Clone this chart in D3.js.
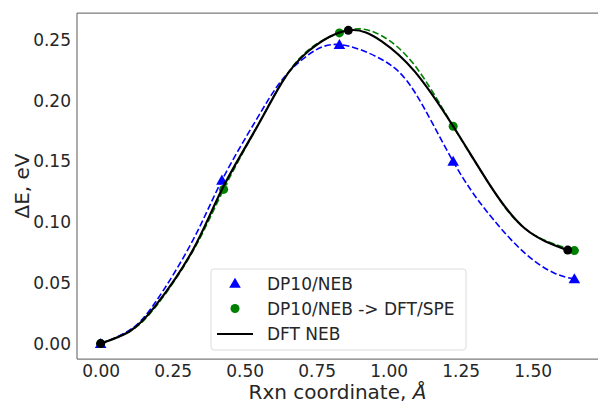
<!DOCTYPE html>
<html>
<head>
<meta charset="utf-8">
<script src="https://cdn.jsdelivr.net/npm/d3@7"></script>
<style>
  html, body { margin: 0; padding: 0; background: #fff; }
  svg { display: block; font-family: 'DejaVu Sans', sans-serif; }
</style>
</head>
<body>
<div id="chart"></div>
<script>
// NEB energy profiles: DP10 vs DFT single points vs DFT NEB

// image markers
const dpX = [0.0, 0.421, 0.829, 1.224, 1.645];
const dpE = [0.0, 0.1345, 0.2463, 0.150, 0.0533];
const speX = [0.0, 0.427, 0.829, 1.224, 1.645];
const speE = [0.0, 0.127, 0.2559, 0.179, 0.0766];
const dftX = [0.0, 0.860, 1.622];
const dftE = [0.0, 0.258, 0.077];

// fitted paths
const dpFitX = [0.0, 0.10, 0.19, 0.32, 0.421, 0.537, 0.629, 0.722, 0.829, 0.976, 1.091, 1.224, 1.345, 1.472, 1.576, 1.645];
const dpFitE = [0.0, 0.011, 0.034, 0.085, 0.1345, 0.183, 0.217, 0.238, 0.2463, 0.234, 0.207, 0.150, 0.1076, 0.0747, 0.058, 0.0533];
const speFitX = [0.0, 0.10, 0.19, 0.32, 0.427, 0.537, 0.629, 0.722, 0.829, 0.900, 0.976, 1.091, 1.224, 1.345, 1.472, 1.645];
const speFitE = [0.0, 0.010, 0.030, 0.076, 0.127, 0.176, 0.215, 0.242, 0.2559, 0.2592, 0.2535, 0.229, 0.179, 0.133, 0.095, 0.0766];
const dftFitX = [0.0, 0.10, 0.19, 0.32, 0.421, 0.537, 0.629, 0.722, 0.860, 0.976, 1.091, 1.224, 1.345, 1.472, 1.622];
const dftFitE = [0.0, 0.010, 0.031, 0.077, 0.127, 0.176, 0.215, 0.241, 0.258, 0.249, 0.224, 0.179, 0.133, 0.095, 0.077];

const xTicks = [0, 0.25, 0.5, 0.75, 1.0, 1.25, 1.5];
const yTicks = [0, 0.05, 0.10, 0.15, 0.20, 0.25];
const legendLabels = ['DP10/NEB', 'DP10/NEB -> DFT/SPE', 'DFT NEB'];

const W = 598, H = 403;
const TEXT = '#262626';
const SPINE = '#7a7a7a';

const svg = d3.select('#chart').append('svg')
  .attr('width', W)
  .attr('height', H);

const x = d3.scaleLinear().domain([-0.0822, 1.727]).range([77, 598]);
const y = d3.scaleLinear().domain([-0.0127, 0.2723]).range([359, 13]);

// axes (no tick marks, just labels)
const gx = svg.append('g')
  .attr('transform', 'translate(0,359)')
  .call(d3.axisBottom(x).tickValues(xTicks).tickFormat(d3.format('.2f')).tickSize(0).tickPadding(6));
const gy = svg.append('g')
  .attr('transform', 'translate(77,0)')
  .call(d3.axisLeft(y).tickValues(yTicks).tickFormat(d3.format('.2f')).tickSize(0).tickPadding(6));
[gx, gy].forEach(g => {
  g.select('.domain').remove();
  g.selectAll('text')
    .attr('fill', TEXT)
    .style('font-family', "'DejaVu Sans', sans-serif")
    .style('font-size', '17px');
});

// spines
svg.append('line').attr('x1', 77).attr('x2', 77).attr('y1', 13).attr('y2', 359)
  .attr('stroke', SPINE).attr('stroke-width', 1.25);
svg.append('line').attr('x1', 77).attr('x2', 598).attr('y1', 359).attr('y2', 359)
  .attr('stroke', SPINE).attr('stroke-width', 1.25);
svg.append('line').attr('x1', 77).attr('x2', 598).attr('y1', 13).attr('y2', 13)
  .attr('stroke', SPINE).attr('stroke-width', 1.25);

const line = d3.line()
  .x(d => x(d[0]))
  .y(d => y(d[1]))
  .curve(d3.curveNatural);

const zip = (a, b) => a.map((v, i) => [v, b[i]]);

const tri = d3.symbol().type(d3.symbolTriangle).size(58);
const dot = d3.symbol().type(d3.symbolCircle).size(64);

const plot = svg.append('g');

// DP10/NEB
plot.append('path')
  .datum(zip(dpFitX, dpFitE))
  .attr('d', line)
  .attr('fill', 'none')
  .attr('stroke', 'blue')
  .attr('stroke-width', 1.6)
  .attr('stroke-dasharray', '6.5,2.8');
plot.selectAll('.dp')
  .data(zip(dpX, dpE))
  .enter().append('path')
  .attr('class', 'dp')
  .attr('d', tri)
  .attr('transform', d => `translate(${x(d[0])},${y(d[1]) + 1})`)
  .attr('fill', 'blue');

// DP10/NEB -> DFT/SPE
plot.append('path')
  .datum(zip(speFitX, speFitE))
  .attr('d', line)
  .attr('fill', 'none')
  .attr('stroke', 'green')
  .attr('stroke-width', 1.6)
  .attr('stroke-dasharray', '6.5,2.8');
plot.selectAll('.spe')
  .data(zip(speX, speE))
  .enter().append('path')
  .attr('class', 'spe')
  .attr('d', dot)
  .attr('transform', d => `translate(${x(d[0])},${y(d[1])})`)
  .attr('fill', 'green');

// DFT NEB
plot.append('path')
  .datum(zip(dftFitX, dftFitE))
  .attr('d', line)
  .attr('fill', 'none')
  .attr('stroke', 'black')
  .attr('stroke-width', 2.2);
plot.selectAll('.dft')
  .data(zip(dftX, dftE))
  .enter().append('path')
  .attr('class', 'dft')
  .attr('d', dot)
  .attr('transform', d => `translate(${x(d[0])},${y(d[1])})`)
  .attr('fill', 'black');

// axis labels
svg.append('text')
  .attr('x', 337.5)
  .attr('y', 399)
  .attr('text-anchor', 'middle')
  .attr('fill', TEXT)
  .style('font-size', '20px')
  .text('Rxn coordinate, ')
  .append('tspan')
  .style('font-style', 'italic')
  .text('Å');

svg.append('text')
  .attr('transform', 'translate(29,186) rotate(-90)')
  .attr('text-anchor', 'middle')
  .attr('fill', TEXT)
  .style('font-size', '20px')
  .text('ΔE, eV');

// legend
const lg = svg.append('g').attr('transform', 'translate(211,269)');
lg.append('rect')
  .attr('width', 255)
  .attr('height', 81)
  .attr('rx', 3)
  .attr('fill', 'white')
  .attr('fill-opacity', 0.8)
  .attr('stroke', '#dcdcdc')
  .attr('stroke-width', 1);

const rowY = [14.5, 39.5, 65];
lg.append('path').attr('d', tri).attr('transform', `translate(24,${rowY[0] + 1})`).attr('fill', 'blue');
lg.append('path').attr('d', dot).attr('transform', `translate(24,${rowY[1]})`).attr('fill', 'green');
lg.append('line').attr('x1', 6).attr('x2', 42).attr('y1', rowY[2]).attr('y2', rowY[2])
  .attr('stroke', 'black').attr('stroke-width', 2.2);

lg.selectAll('.lt')
  .data(legendLabels)
  .enter().append('text')
  .attr('class', 'lt')
  .attr('x', 56)
  .attr('y', (_, i) => rowY[i])
  .attr('dy', '0.36em')
  .attr('fill', TEXT)
  .style('font-size', '17px')
  .text(d => d);
</script>
</body>
</html>
